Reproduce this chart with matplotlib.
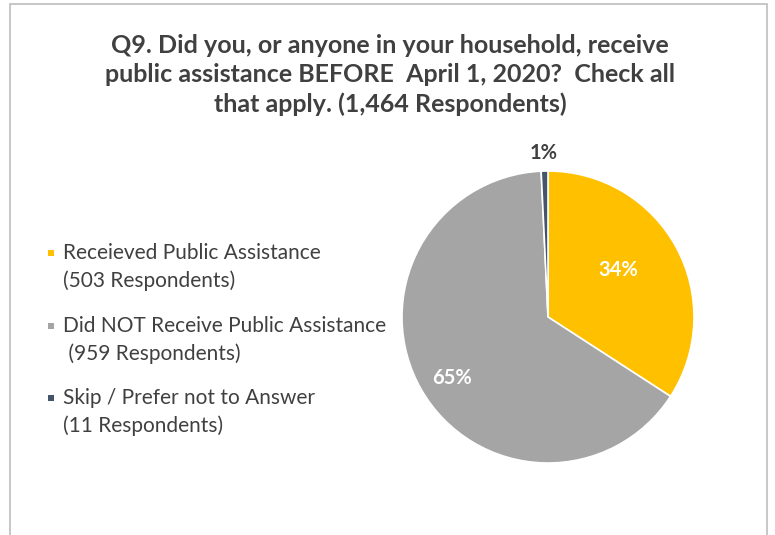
import matplotlib.pyplot as plt
from matplotlib.patches import Rectangle

title = ("Q9. Did you, or anyone in your household, receive\n"
         "public assistance BEFORE  April 1, 2020?  Check all\n"
         "that apply. (1,464 Respondents)")
categories = ["Receieved Public Assistance", "Did NOT Receive Public Assistance",
              "Skip / Prefer not to Answer"]
respondents = [503, 959, 11]
colors = ["#FFC000", "#A5A5A5", "#44546A"]

plt.rcParams['font.family'] = ['Lato', 'DejaVu Sans']

fig = plt.figure(figsize=(7.75, 5.35), dpi=100)
W, H = 775, 535

# outer frame
fig.add_artist(Rectangle((10 / W, -0.05), 757 / W, 1.05 - 4 / H, transform=fig.transFigure,
                         fill=False, edgecolor="#BDBDBD", linewidth=1.2))

fig.text(390 / W, 1 - 75 / H, title, ha="center", va="center", fontsize=18,
         fontweight="bold", color="#404040", linespacing=1.33)

# pie
cx, cy, r = 548, 317, 146
ax = fig.add_axes([(cx - r) / W, 1 - (cy + r) / H, 2 * r / W, 2 * r / H])
wedges, _ = ax.pie(respondents, colors=colors, startangle=90, counterclock=False,
                   wedgeprops=dict(edgecolor="white", linewidth=1.2))
ax.set_xlim(-1, 1)
ax.set_ylim(-1, 1)
ax.set_aspect("equal")
ax.axis("off")

total = sum(respondents)
label_pos = [(0.48, 0.32), (-0.66, -0.42), (-0.03, 1.12)]
label_col = ["white", "white", "#404040"]
for v, (lx, ly), c in zip(respondents, label_pos, label_col):
    ax.text(lx, ly, f"{v / total:.0%}", ha="center", va="center", fontsize=14.5,
            fontweight="bold", color=c)

# legend
for i, (name, n, c) in enumerate(zip(categories, respondents, colors)):
    y = 253 + i * 72.5
    fig.patches.append(Rectangle((48 / W, 1 - (y + 3) / H), 6 / W, 6 / H,
                                 transform=fig.transFigure, facecolor=c, edgecolor="none"))
    second = f"({n} Respondents)"
    if i == 1:
        second = " " + second
    fig.text(63 / W, 1 - y / H, name, ha="left", va="center", fontsize=15, color="#404040")
    fig.text(63 / W, 1 - (y + 28) / H, second, ha="left", va="center", fontsize=15,
             color="#404040")

fig.savefig("out.png", dpi=100)
